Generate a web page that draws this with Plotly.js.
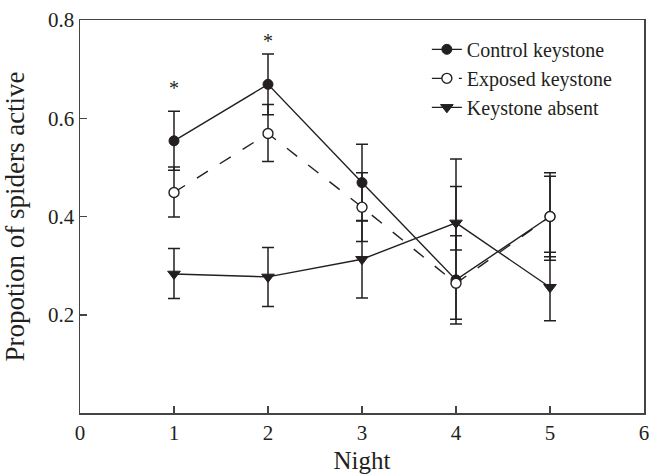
<!DOCTYPE html>
<html>
<head>
<meta charset="utf-8">
<script src="https://cdn.plot.ly/plotly-3.0.1.min.js"></script>
<style>
  html, body { margin: 0; padding: 0; background: #fff; }
  #chart { width: 649px; height: 476px; }
</style>
</head>
<body>
<div id="chart"></div>
<script>
// Data
const nights = [1, 2, 3, 4, 5];

const controlMean = [0.554, 0.669, 0.469, 0.271, 0.400];
const controlErrUp = [0.060, 0.062, 0.078, 0.090, 0.089];
const controlErrDown = [0.060, 0.062, 0.078, 0.090, 0.089];

const exposedMean = [0.449, 0.569, 0.419, 0.264, 0.400];
const exposedErrUp = [0.052, 0.059, 0.070, 0.197, 0.082];
const exposedErrDown = [0.050, 0.057, 0.070, 0.073, 0.082];

const absentMean = [0.283, 0.277, 0.313, 0.387, 0.256];
const absentErrUp = [0.052, 0.060, 0.079, 0.130, 0.071];
const absentErrDown = [0.050, 0.060, 0.079, 0.055, 0.068];

const seriesNames = ["Control keystone", "Exposed keystone", "Keystone absent"];

const xTicks = [0, 1, 2, 3, 4, 5, 6];
const yTicks = [0.2, 0.4, 0.6, 0.8];
const yTickLabels = ["0.2", "0.4", "0.6", "0.8"];

// significance markers
const sigX = [1, 2];
const sigY = [0.662, 0.758];

const ink = "#231f20";
const FONT = "Liberation Serif, Times New Roman, serif";

function errBar(up, down) {
  return {
    type: "data", symmetric: false, array: up, arrayminus: down,
    color: ink, thickness: 1.5, width: 6, visible: true
  };
}

const traces = [
  {
    x: nights, y: controlMean, name: seriesNames[0], type: "scatter", mode: "lines+markers",
    line: { color: ink, width: 1.4 },
    marker: { symbol: "circle", size: 10, color: ink, line: { color: ink, width: 1 } },
    error_y: errBar(controlErrUp, controlErrDown)
  },
  {
    x: nights, y: exposedMean, name: seriesNames[1], type: "scatter", mode: "lines+markers",
    line: { color: ink, width: 1.4, dash: "13px,14px" },
    marker: { symbol: "circle", size: 10, color: "#ffffff", line: { color: ink, width: 1.4 } },
    error_y: errBar(exposedErrUp, exposedErrDown)
  },
  {
    x: nights, y: absentMean, name: seriesNames[2], type: "scatter", mode: "lines+markers",
    line: { color: ink, width: 1.4 },
    marker: { symbol: "triangle-down", size: 11, color: ink, line: { color: ink, width: 1 } },
    error_y: errBar(absentErrUp, absentErrDown)
  }
];

const annotations = sigX.map((x, i) => ({
  x: x, y: sigY[i], xref: "x", yref: "y", text: "*", showarrow: false,
  font: { family: FONT, size: 20, color: ink }
}));

const layout = {
  width: 649, height: 476,
  margin: { l: 80, r: 5, t: 20, b: 62.5 },
  paper_bgcolor: "#ffffff", plot_bgcolor: "#ffffff",
  font: { family: FONT, size: 21, color: ink },
  showlegend: true,
  legend: {
    x: 0.615, y: 0.975, xanchor: "left", yanchor: "top",
    bgcolor: "rgba(0,0,0,0)", borderwidth: 0,
    font: { family: FONT, size: 20, color: ink },
    tracegroupgap: 0
  },
  xaxis: {
    range: [0, 6], tickmode: "array", tickvals: xTicks, ticktext: xTicks.map(String),
    ticks: "inside", ticklen: 7, tickwidth: 1.5, tickcolor: "#444",
    showline: true, linecolor: "#444", linewidth: 1.5, mirror: true,
    showgrid: false, zeroline: false, ticklabeloverflow: "allow",
    tickfont: { family: FONT, size: 21, color: ink },
    title: { text: "Night", font: { family: FONT, size: 25, color: ink }, standoff: 8 },
    automargin: false
  },
  yaxis: {
    range: [0, 0.8], tickmode: "array", tickvals: yTicks, ticktext: yTickLabels,
    ticks: "inside", ticklen: 7, tickwidth: 1.5, tickcolor: "#444",
    showline: true, linecolor: "#444", linewidth: 1.5, mirror: true,
    showgrid: false, zeroline: false,
    tickfont: { family: FONT, size: 21, color: ink },
    title: { text: "Propotion of spiders active", font: { family: FONT, size: 27, color: ink }, standoff: 15 },
    automargin: false
  },
  annotations: annotations
};

Plotly.newPlot("chart", traces, layout, { displayModeBar: false, staticPlot: true });
</script>
</body>
</html>
